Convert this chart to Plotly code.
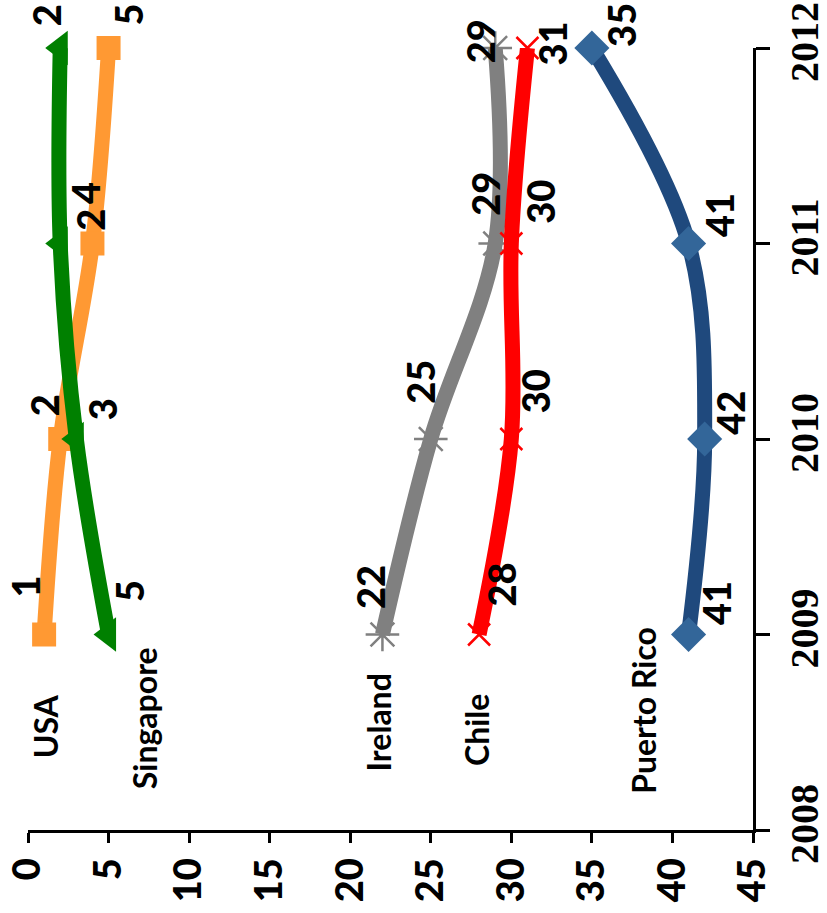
import plotly.graph_objects as go

# Ranking by year (lower rank = better), five economies
years = [2009, 2010, 2011, 2012]
usa = [1, 2, 4, 5]
singapore = [5, 3, 2, 2]
ireland = [22, 25, 29, 29]
chile = [28, 30, 30, 31]
puerto_rico = [41, 42, 41, 35]

rank_ticks = [0, 5, 10, 15, 20, 25, 30, 35, 40, 45]
year_ticks = [2008, 2009, 2010, 2011, 2012]

series = [
    # name, values, line colour, marker colour, marker symbol, marker size
    ("USA", usa, "#FF9933", "#FF9933", "square", 24),
    ("Singapore", singapore, "#008000", "#008000", "triangle-left", 30),
    ("Ireland", ireland, "#808080", "#808080", "asterisk-open", 28),
    ("Chile", chile, "#FF0000", "#FF0000", "x-thin-open", 22),
    ("Puerto Rico", puerto_rico, "#1F497D", "#336699", "diamond", 27),
]

# pixel offsets (dx, dy downwards) of each value label from its point
label_offsets = {
    "USA": [(-20, -48), (-16, -34), (-8, -51), (19, -33)],
    "Singapore": [(20, -43), (26, -30), (29, -24), (-14, -33)],
    "Ireland": [(-13, -48), (-11, -57), (-11, -50), (-15, -7)],
    "Chile": [(21, -50), (24, -48), (28, -42), (25, -5)],
    "Puerto Rico": [(27, -31), (25, -26), (30, -28), (29, -23)],
}

# where the series names sit (rank, year)
name_positions = {
    "USA": (1.05, 2008.53),
    "Singapore": (7.24, 2008.57),
    "Ireland": (21.78, 2008.55),
    "Chile": (27.85, 2008.51),
    "Puerto Rico": (38.24, 2008.61),
}

num_font = dict(family="Lato", size=38, color="black", weight=900)
name_font = dict(family="Lato", size=32, color="black", weight=700)

fig = go.Figure()
annotations = []
for name, vals, lcol, mcol, sym, msize in series:
    is_open = sym.endswith("-open")
    fig.add_trace(go.Scatter(
        x=vals, y=years, mode="lines+markers", name=name,
        line=dict(color=lcol, width=15, shape="spline"),
        marker=dict(symbol=sym, size=msize, color=mcol,
                    line=dict(color=mcol, width=2.5 if is_open else 0)),
        cliponaxis=False, showlegend=False,
    ))
    for v, yr, (dx, dy) in zip(vals, years, label_offsets[name]):
        annotations.append(dict(
            x=v, y=yr, xref="x", yref="y", text=str(v), showarrow=False,
            textangle=-90, font=num_font, xshift=dx, yshift=-dy,
        ))
    nx, ny = name_positions[name]
    annotations.append(dict(
        x=nx, y=ny, xref="x", yref="y", text=name, showarrow=False,
        textangle=-90, font=name_font,
    ))

fig.update_layout(
    width=827, height=913,
    margin=dict(l=28, r=74, t=48, b=83),
    paper_bgcolor="white", plot_bgcolor="white",
    annotations=annotations,
    xaxis=dict(
        range=[0, 45], tickvals=rank_ticks, ticktext=[str(t) for t in rank_ticks],
        tickangle=-90, tickfont=dict(family="Lato", size=38, color="black", weight=900),
        showline=True, linecolor="black", linewidth=3,
        ticks="outside", ticklen=10, tickwidth=2.5, tickcolor="black",
        showgrid=False, zeroline=False, automargin=False,
    ),
    yaxis=dict(
        range=[2008, 2012], side="right", tickvals=year_ticks,
        ticktext=[str(t) for t in year_ticks],
        tickangle=-90,
        tickfont=dict(family="Liberation Sans Narrow", size=40, color="black", weight=700),
        showline=True, linecolor="black", linewidth=3,
        ticks="outside", ticklen=14, tickwidth=2.5, tickcolor="black",
        showgrid=False, zeroline=False, automargin=False,
    ),
)

fig.write_html("out.html")
